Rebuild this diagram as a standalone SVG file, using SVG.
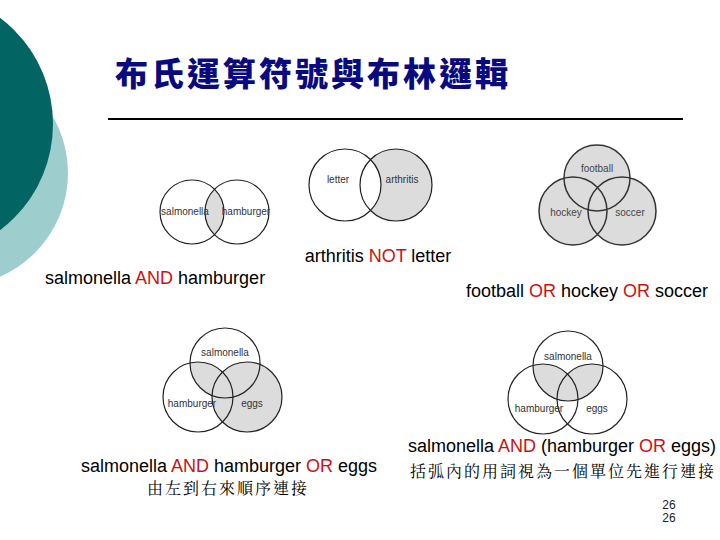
<svg xmlns="http://www.w3.org/2000/svg" width="720" height="540" viewBox="0 0 720 540">
<style>
.c{fill:none;stroke:#222;stroke-width:1.2}
.s{fill:#dcdcdc}
.w{fill:#fff}
.lb{font-family:"Liberation Sans",Arial,sans-serif;font-size:10px;fill:#333;text-anchor:middle}
.cap{font-family:"Liberation Sans",Arial,sans-serif;font-size:18px;fill:#000}
.r{fill:#cc1111}
.zh{font-family:"Noto Serif CJK TC","Noto Sans CJK TC",serif;font-size:16px;fill:#000;letter-spacing:2px}
</style>
<defs>
<clipPath id="a1"><circle cx="192" cy="212" r="32"/></clipPath>
<clipPath id="t4"><circle cx="225" cy="363" r="35"/></clipPath>
<clipPath id="t5"><circle cx="568" cy="366" r="35"/></clipPath>
</defs>
<rect width="720" height="540" fill="#fff"/>
<g id="decor">
<circle cx="-45" cy="173" r="113" fill="#9ecdce"/>
<circle cx="-80" cy="124" r="133" fill="#036563"/>
</g>
<g id="title">
<text x="115" y="86" style="font-family:'Noto Sans CJK TC','Noto Sans CJK SC',sans-serif;font-weight:900;font-size:33px;fill:#0a0a80;letter-spacing:3px">布氏運算符號與布林邏輯</text>
<line x1="108" y1="119" x2="683" y2="119" stroke="#000" stroke-width="2"/>
</g>
<g id="venn-and">
<circle cx="237" cy="212" r="32" class="s" clip-path="url(#a1)"/>
<circle cx="192" cy="212" r="32" class="c"/>
<circle cx="237" cy="212" r="32" class="c"/>
<text x="185" y="215" class="lb">salmonella</text>
<text x="246" y="215" class="lb">hamburger</text>
<text x="45" y="284" class="cap">salmonella <tspan class="r">AND</tspan> hamburger</text>
</g>
<g id="venn-not">
<circle cx="396" cy="185" r="36" class="s"/>
<circle cx="345" cy="185" r="36" class="w"/>
<circle cx="345" cy="185" r="36" class="c"/>
<circle cx="396" cy="185" r="36" class="c"/>
<text x="338" y="183" class="lb">letter</text>
<text x="402" y="183" class="lb">arthritis</text>
<text x="378" y="262" class="cap" text-anchor="middle">arthritis <tspan class="r">NOT</tspan> letter</text>
</g>
<g id="venn-or">
<circle cx="597" cy="178" r="33" class="s"/>
<circle cx="573" cy="211" r="34" class="s"/>
<circle cx="622" cy="211" r="34" class="s"/>
<g style="stroke:#333;stroke-width:1.5;fill:none">
<circle cx="597" cy="178" r="33"/>
<circle cx="573" cy="211" r="34"/>
<circle cx="622" cy="211" r="34"/>
</g>
<text x="597" y="172" class="lb" style="fill:#444">football</text>
<text x="566" y="216" class="lb" style="fill:#444">hockey</text>
<text x="630" y="216" class="lb" style="fill:#444">soccer</text>
<text x="587" y="297" class="cap" text-anchor="middle">football <tspan class="r">OR</tspan> hockey <tspan class="r">OR</tspan> soccer</text>
</g>
<g id="venn-left-to-right">
<circle cx="247" cy="397" r="35" class="s"/>
<circle cx="198" cy="397" r="35" class="s" clip-path="url(#t4)"/>
<circle cx="225" cy="363" r="35" class="c"/>
<circle cx="198" cy="397" r="35" class="c"/>
<circle cx="247" cy="397" r="35" class="c"/>
<text x="225" y="356" class="lb">salmonella</text>
<text x="192" y="407" class="lb">hamburger</text>
<text x="252" y="407" class="lb">eggs</text>
<text x="229" y="472" class="cap" text-anchor="middle">salmonella <tspan class="r">AND</tspan> hamburger <tspan class="r">OR</tspan> eggs</text>
<text x="228" y="494" class="zh" text-anchor="middle">由左到右來順序連接</text>
</g>
<g id="venn-parens">
<circle cx="543" cy="399" r="35" class="s" clip-path="url(#t5)"/>
<circle cx="592" cy="399" r="35" class="s" clip-path="url(#t5)"/>
<circle cx="568" cy="366" r="35" class="c"/>
<circle cx="543" cy="399" r="35" class="c"/>
<circle cx="592" cy="399" r="35" class="c"/>
<text x="568" y="360" class="lb">salmonella</text>
<text x="539" y="412" class="lb">hamburger</text>
<text x="597" y="412" class="lb">eggs</text>
<text x="562" y="452" class="cap" text-anchor="middle">salmonella <tspan class="r">AND</tspan> (hamburger <tspan class="r">OR</tspan> eggs)</text>
<text x="563" y="477" class="zh" text-anchor="middle">括弧內的用詞視為一個單位先進行連接</text>
</g>
<g id="page">
<text x="669" y="509" style="font-family:'Liberation Sans',Arial,sans-serif;font-size:12px;fill:#222" text-anchor="middle">26</text>
<text x="669" y="522" style="font-family:'Liberation Sans',Arial,sans-serif;font-size:12px;fill:#222" text-anchor="middle">26</text>
</g>
</svg>
